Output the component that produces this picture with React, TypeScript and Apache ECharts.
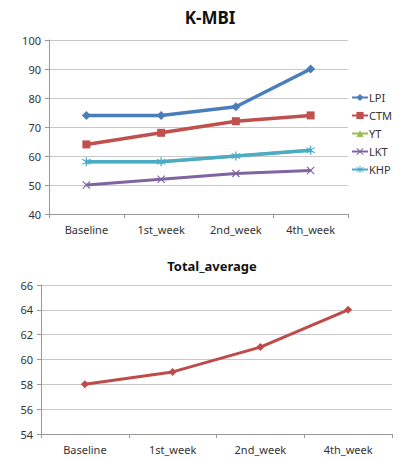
import React, { useEffect, useRef } from "react";
import * as echarts from "echarts";

const categories = ["Baseline", "1st_week", "2nd_week", "4th_week"];
const lpi = [74, 74, 77, 90];
const ctm = [64, 68, 72, 74];
const yt = [58, 58, 60, 62];
const lkt = [50, 52, 54, 55];
const khp = [58, 58, 60, 62];
const totalAverage = [58, 59, 61, 64];

const xSymbol =
  "path://M1,0L5,4L9,0L10,1L6,5L10,9L9,10L5,6L1,10L0,9L4,5L0,1Z";
const starSymbol =
  "path://M4.4,0H5.6V3.6L8.6,1.6L9.2,2.6L6.2,4.6V5.4L9.2,7.4L8.6,8.4L5.6,6.4V10H4.4V6.4L1.4,8.4L0.8,7.4L3.8,5.4V4.6L0.8,2.6L1.4,1.6L4.4,3.6Z";

const FONT = "Noto Sans";

export default function App() {
  const ref = useRef<HTMLDivElement>(null);
  useEffect(() => {
    const chart = echarts.init(ref.current!, null, { renderer: "svg" });
    const axisLabel = { color: "#333", fontSize: 11, fontFamily: FONT };
    const catAxis = (gridIndex: number) => ({
      type: "category" as const,
      gridIndex,
      data: categories,
      boundaryGap: true,
      axisLine: { lineStyle: { color: "#999" } },
      axisTick: { show: true, length: 4, lineStyle: { color: "#999" } },
      axisLabel: { ...axisLabel, margin: 10 },
    });
    const valAxis = (gridIndex: number, min: number, max: number, interval: number) => ({
      type: "value" as const,
      gridIndex,
      min,
      max,
      interval,
      axisLine: { show: true, lineStyle: { color: "#999" } },
      axisTick: { show: true, length: 4, inside: false, lineStyle: { color: "#999" } },
      axisLabel: { ...axisLabel, margin: 8 },
      splitLine: { lineStyle: { color: "#c8c8c8" } },
    });
    const line = (
      name: string,
      data: number[],
      color: string,
      symbol: string,
      symbolSize: number,
      width: number,
      z: number,
      xAxisIndex = 0,
      yAxisIndex = 0
    ) => ({
      name,
      type: "line" as const,
      data,
      xAxisIndex,
      yAxisIndex,
      color,
      symbol,
      symbolSize,
      showSymbol: true,
      z,
      lineStyle: { color, width },
      itemStyle: { color },
    });
    chart.setOption({
      animation: false,
      backgroundColor: "#fff",
      title: [
        {
          text: "K-MBI",
          left: 205,
          top: 4,
          textAlign: "center",
          textStyle: { fontSize: 17, fontWeight: "bold", color: "#111", fontFamily: FONT },
        },
        {
          text: "Total_average",
          left: 207,
          top: 254,
          textAlign: "center",
          textStyle: { fontSize: 13, fontWeight: "bold", color: "#111", fontFamily: FONT },
        },
      ],
      legend: {
        orient: "vertical",
        left: 351,
        top: 92,
        padding: 0,
        itemGap: 7,
        itemWidth: 16,
        itemHeight: 9,
        textStyle: { fontSize: 11, color: "#333", fontFamily: FONT, padding: [0, 0, 0, -4] },
        data: ["LPI", "CTM", "YT", "LKT", "KHP"],
      },
      grid: [
        { left: 49, top: 40, width: 299, height: 174 },
        { left: 41, top: 285, width: 351, height: 149 },
      ],
      xAxis: [catAxis(0), catAxis(1)],
      yAxis: [valAxis(0, 40, 100, 10), valAxis(1, 54, 66, 2)],
      series: [
        line("LPI", lpi, "#4A7EBB", "diamond", 9, 3.5, 6),
        line("CTM", ctm, "#C0504D", "rect", 8, 3.5, 5),
        line("YT", yt, "#9BBB59", "triangle", 4, 3, 2),
        line("LKT", lkt, "#8064A2", xSymbol, 8, 3, 3),
        line("KHP", khp, "#4BACC6", starSymbol, 9, 3.5, 4),
        line("Total_average", totalAverage, "#BE4B48", "diamond", 8, 3, 5, 1, 1),
      ],
    });
    return () => chart.dispose();
  }, []);
  return (
    <div
      ref={ref}
      style={{ position: "absolute", left: 0, top: 0, width: 400, height: 460 }}
    />
  );
}
